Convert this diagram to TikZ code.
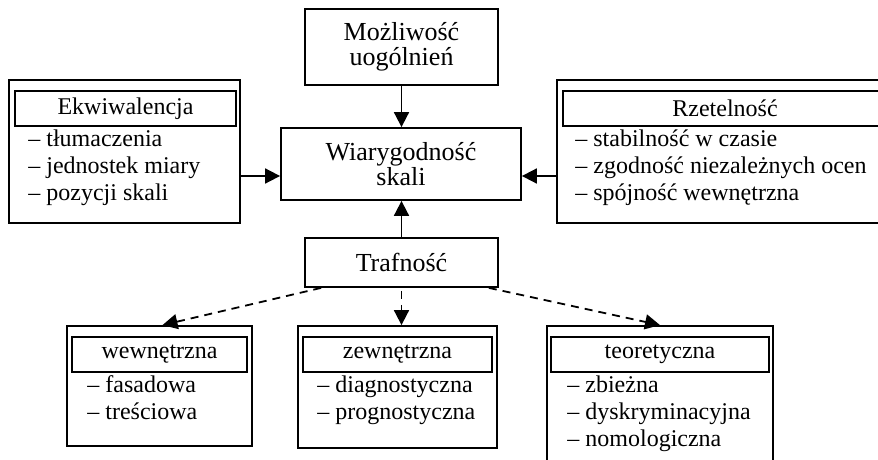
\documentclass[tikz,border=0pt]{standalone}
\usepackage{fontspec}
\setmainfont{Liberation Serif}
\usetikzlibrary{arrows.meta}

\begin{document}
\begin{tikzpicture}[x=0.5pt, y=-0.5pt]

    % Set the canvas size
    \useasboundingbox (0,0) rectangle (878,460);

    % Define styles
    \tikzset{
        mainbox/.style={draw, line width=0.9pt, inner sep=0pt, align=center, font=\fontsize{13}{12.5}\selectfont},
        outerbox/.style={draw, line width=0.9pt, inner sep=0pt},
        titlebox/.style={draw, line width=1.1pt, inner sep=0pt, minimum height=17.5pt, font=\fontsize{12}{14}\selectfont},
        item/.style={anchor=west, inner sep=0pt, text height=1ex, text depth=0pt, font=\fontsize{12}{14}\selectfont},
        arrow/.style={-{Triangle[length=7.5pt, width=7.5pt]}, line width=0.9pt},
        dasharrow/.style={arrow, dash pattern=on 4pt off 3pt},
    }

    % Central column
    \node[mainbox, minimum width=96.5pt, minimum height=38pt] (moz) at (401.5,47) {Możliwość\\uogólnień};
    \node[mainbox, minimum width=120pt, minimum height=36pt] (wia) at (401,164) {Wiarygodność\\skali};
    \node[mainbox, minimum width=96.5pt, minimum height=24.5pt] (tra) at (401.5,262.5) {Trafność};

    % Ekwiwalencja
    \node[outerbox, minimum width=115.5pt, minimum height=71.5pt] (ekw) at (124.5,151.5) {};
    \node[titlebox, minimum width=110.5pt] (ekwT) at (125.5,108.5) {Ekwiwalencja};
    \foreach \t [count=\i] in {tłumaczenia, jednostek miary, pozycji skali}
        \node[item] (ekw\i) at (28,115+27*\i) {– \t};

    % Rzetelnosc (runs off the right edge)
    \node[outerbox, minimum width=180pt, minimum height=71.5pt] (rze) at (737,151.5) {};
    \node[titlebox, minimum width=170pt] (rzeT) at (733,108.5) {};
    \node[font=\fontsize{12}{14}\selectfont] (rzeL) at (725,108.5) {Rzetelność};
    \foreach \t [count=\i] in {stabilność w czasie, zgodność niezależnych ocen, spójność wewnętrzna}
        \node[item] (rze\i) at (575,115+27*\i) {– \t};

    % Trafnosc: wewnetrzna, zewnetrzna, teoretyczna
    \node[outerbox, minimum width=92.5pt, minimum height=60pt] (wew) at (159.5,386) {};
    \node[titlebox, minimum width=87.5pt] (wewT) at (159.5,354.5) {wewnętrzna};
    \foreach \t [count=\i] in {fasadowa, treściowa}
        \node[item] (wew\i) at (87,361+27*\i) {– \t};

    \node[outerbox, minimum width=99.5pt, minimum height=61pt] (zew) at (397.5,387) {};
    \node[titlebox, minimum width=94.5pt] (zewT) at (397.5,354.5) {zewnętrzna};
    \foreach \t [count=\i] in {diagnostyczna, prognostyczna}
        \node[item] (zew\i) at (317,361+27*\i) {– \t};

    % teoretyczna runs off the bottom edge
    \node[outerbox, minimum width=113pt, minimum height=90pt] (teo) at (660,416) {};
    \node[titlebox, minimum width=109pt] (teoT) at (660,354.5) {teoretyczna};
    \foreach \t [count=\i] in {zbieżna, dyskryminacyjna, nomologiczna}
        \node[item] (teo\i) at (567,361+27*\i) {– \t};

    % Arrows into the centre
    \coordinate (wiaL) at ([yshift=-6pt]wia.west);
    \coordinate (wiaR) at ([yshift=-6pt]wia.east);
    \draw[arrow] (moz.south) -- (moz.south |- wia.north);
    \draw[arrow] (tra.north) -- (tra.north |- wia.south);
    \draw[arrow] (wiaL -| ekw.east) -- (wiaL);
    \draw[arrow] (wiaR -| rze.west) -- (wiaR);

    % Dashed arrows from Trafnosc
    \draw[dasharrow] ([xshift=8.5pt]tra.south west) -- ([xshift=1.5pt]wew.north);
    \draw[dasharrow, shorten <=1.5pt] (tra.south) -- (tra.south |- zew.north);
    \draw[dasharrow] ([xshift=-5pt]tra.south east) -- (teo.north);

\end{tikzpicture}
\end{document}
